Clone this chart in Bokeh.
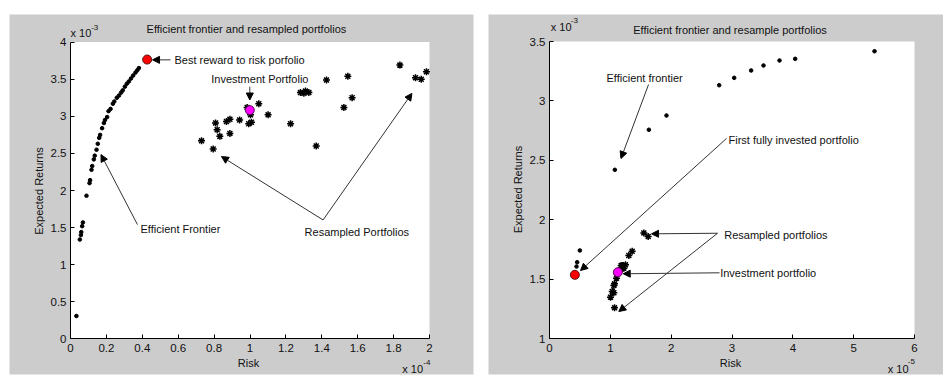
from bokeh.plotting import figure
from bokeh.layouts import row
from bokeh.models import Range1d, FixedTicker, Label, Arrow, NormalHead
from bokeh.embed import file_html
from bokeh.resources import INLINE

# ---------------- Left panel data (risk in 1e-4, expected return in 1e-3) ----------------
left_frontier_risk = [0.033, 0.052, 0.058, 0.060, 0.065, 0.069, 0.089, 0.106, 0.109, 0.117,
                      0.121, 0.130, 0.135, 0.145, 0.152, 0.160, 0.165, 0.176, 0.186, 0.192,
                      0.204, 0.212, 0.223, 0.236, 0.244, 0.258, 0.270, 0.282, 0.291, 0.303,
                      0.314, 0.325, 0.337, 0.349, 0.362, 0.372, 0.381]
left_frontier_ret = [0.31, 1.34, 1.40, 1.44, 1.52, 1.57, 1.93, 2.10, 2.14, 2.28,
                     2.33, 2.42, 2.47, 2.55, 2.63, 2.71, 2.75, 2.84, 2.91, 2.95,
                     2.99, 3.07, 3.10, 3.17, 3.20, 3.25, 3.28, 3.32, 3.35, 3.40,
                     3.44, 3.47, 3.51, 3.55, 3.59, 3.62, 3.65]
left_resampled_risk = [0.984, 1.049, 1.003, 1.101, 0.942, 0.888, 0.869, 0.808, 1.008, 0.993,
                       0.817, 0.832, 0.888, 0.730, 0.795, 1.226, 1.281, 1.309, 1.328, 1.300,
                       1.426, 1.545, 1.569, 1.523, 1.369, 1.835, 1.922, 1.954, 1.983]
left_resampled_ret = [3.12, 3.17, 3.02, 3.02, 2.95, 2.96, 2.93, 2.91, 2.92, 2.90,
                      2.82, 2.73, 2.77, 2.67, 2.56, 2.90, 3.32, 3.34, 3.32, 3.31,
                      3.49, 3.54, 3.25, 3.12, 2.60, 3.69, 3.52, 3.50, 3.60]
left_best_risk, left_best_ret = [0.427], [3.765]
left_invest_risk, left_invest_ret = [0.999], [3.083]

left_x_ticks = [0, 0.2, 0.4, 0.6, 0.8, 1, 1.2, 1.4, 1.6, 1.8, 2]
left_x_labels = ["0", "0.2", "0.4", "0.6", "0.8", "1", "1.2", "1.4", "1.6", "1.8", "2"]
left_y_ticks = [0, 0.5, 1, 1.5, 2, 2.5, 3, 3.5, 4]
left_y_labels = ["0", "0.5", "1", "1.5", "2", "2.5", "3", "3.5", "4"]

# ---------------- Right panel data (risk in 1e-5, expected return in 1e-3) ----------------
right_frontier_risk = [0.444, 0.455, 0.499, 1.074, 1.633, 1.923, 2.789, 3.036, 3.315, 3.518,
                       3.781, 4.039, 5.343]
right_frontier_ret = [1.606, 1.642, 1.741, 2.420, 2.757, 2.877, 3.132, 3.194, 3.256, 3.298,
                      3.340, 3.354, 3.418]
right_resampled_risk = [1.551, 1.622, 1.359, 1.304, 1.249, 1.195, 1.222, 1.167, 1.112, 1.101,
                        1.069, 1.058, 1.031, 1.058, 1.003, 1.069, 1.178]
right_resampled_ret = [1.889, 1.859, 1.735, 1.699, 1.620, 1.614, 1.592, 1.580, 1.545, 1.508,
                       1.460, 1.446, 1.396, 1.385, 1.348, 1.258, 1.614]
right_first_risk, right_first_ret = [0.417], [1.536]
right_invest_risk, right_invest_ret = [1.123], [1.558]

right_x_ticks = [0, 1, 2, 3, 4, 5, 6]
right_x_labels = ["0", "1", "2", "3", "4", "5", "6"]
right_y_ticks = [1, 1.5, 2, 2.5, 3, 3.5]
right_y_labels = ["1", "1.5", "2", "2.5", "3", "3.5"]

# ---------------- Annotation anchors (data space) ----------------
left_notes = {
    "best": dict(text="Best reward to risk porfolio", x=0.579, y=3.761,
                 arrow=[(0.557, 3.761, 0.457, 3.761)]),
    "invest": dict(text="Investment Portfolio", x=1.055, y=3.508, align="center",
                   arrow=[(0.999, 3.40, 0.999, 3.22)]),
    "front": dict(text="Efficient Frontier", x=0.39, y=1.479,
                  arrow=[(0.373, 1.541, 0.170, 2.485)]),
    "resamp": dict(text="Resampled Portfolios", x=1.304, y=1.448,
                   arrow=[(1.407, 1.604, 0.841, 2.458), (1.407, 1.604, 1.902, 3.309)]),
}
right_notes = {
    "front": dict(text="Efficient frontier", x=0.937, y=3.189,
                  arrow=[(1.628, 3.138, 1.175, 2.515)]),
    "first": dict(text="First fully invested portfolio", x=2.943, y=2.667,
                  arrow=[(2.91, 2.684, 0.51, 1.572)]),
    "resamp": dict(text="Resampled portfolios", x=2.872, y=1.875,
                   arrow=[(2.762, 1.886, 1.677, 1.881), (2.762, 1.886, 1.139, 1.227)]),
    "invest": dict(text="Investment portfolio", x=2.806, y=1.553,
                   arrow=[(2.795, 1.553, 1.212, 1.545)]),
}

FONT = "Liberation Sans"
FS = "11px"
TICK_FS = "11.5px"
TXT = "#111111"
GRAY = "#cccccc"
WIN_H = 375


def add_text(p, x, y, text, size=FS, align="left", baseline="middle", angle=0.0):
    p.add_layout(Label(x=x, y=y, text=text, text_font=FONT, text_font_size=size,
                       text_align=align, text_baseline=baseline, angle=angle,
                       text_color=TXT))


def make_panel(fig_w, fig_left, gray_box, plot_box, xr, yr, xt, xl, yt, yl):
    """gray_box / plot_box: (left, right, top, bottom) in window pixels."""
    gl, gr, gt, gb = gray_box
    pl, pr, pt, pb = plot_box
    sx = (pr - pl) / (xr[1] - xr[0])
    sy = (pb - pt) / (yr[1] - yr[0])
    x_rng = Range1d(xr[0] - (pl - gl) / sx, xr[1] + (gr - pr) / sx)
    y_rng = Range1d(yr[0] - (gb - pb) / sy, yr[1] + (pt - gt) / sy)
    p = figure(width=fig_w, height=WIN_H, x_range=x_rng, y_range=y_rng,
               output_backend="svg", toolbar_location=None,
               min_border_left=gl - fig_left, min_border_right=fig_left + fig_w - gr,
               min_border_top=gt, min_border_bottom=WIN_H - gb)
    p.border_fill_color = "white"
    p.background_fill_color = GRAY
    p.outline_line_color = None
    p.xgrid.visible = False
    p.ygrid.visible = False
    # white axes area
    p.quad(left=[xr[0]], right=[xr[1]], bottom=[yr[0]], top=[yr[1]],
           fill_color="white", line_color=None)
    p.xaxis.fixed_location = yr[0]
    p.yaxis.fixed_location = xr[0]
    p.xaxis.bounds = xr
    p.yaxis.bounds = yr
    p.xaxis.ticker = FixedTicker(ticks=xt)
    p.yaxis.ticker = FixedTicker(ticks=yt)
    p.xaxis.major_label_overrides = {t: s for t, s in zip(xt, xl)}
    p.yaxis.major_label_overrides = {t: s for t, s in zip(yt, yl)}
    for ax in (p.xaxis, p.yaxis):
        ax.major_tick_in = 4
        ax.major_tick_out = 0
        ax.minor_tick_line_color = None
        ax.axis_line_color = "black"
        ax.major_tick_line_color = "black"
        ax.major_label_text_font = FONT
        ax.major_label_text_font_size = TICK_FS
        ax.major_label_text_color = TXT
    p.xaxis.major_label_standoff = 5
    p.yaxis.major_label_standoff = 4
    return p


def add_notes(p, notes):
    for n in notes.values():
        for (x0, y0, x1, y1) in n["arrow"]:
            p.add_layout(Arrow(x_start=x0, y_start=y0, x_end=x1, y_end=y1,
                               line_color="#333333", line_width=1,
                               end=NormalHead(size=7, fill_color="black",
                                              line_color="black", line_width=1)))
        add_text(p, n["x"], n["y"], n["text"], align=n.get("align", "left"))


def add_points(p, fr_x, fr_y, rs_x, rs_y, red_x, red_y, mg_x, mg_y):
    p.scatter(fr_x, fr_y, marker="circle", size=3.6, fill_color="black", line_color="black")
    p.scatter(rs_x, rs_y, marker="asterisk", size=7, line_color="black", line_width=1.5)
    p.scatter(red_x, red_y, marker="circle", size=9, fill_color="red", line_color="#551111")
    p.scatter(mg_x, mg_y, marker="circle", size=9, fill_color="#ff00ff", line_color="#551155")


# ---------------- Left panel ----------------
p1 = make_panel(480, 0, (9, 473, 9, 374), (70, 429, 37, 338), (0, 2), (0, 4),
                left_x_ticks, left_x_labels, left_y_ticks, left_y_labels)
add_points(p1, left_frontier_risk, left_frontier_ret, left_resampled_risk, left_resampled_ret,
           left_best_risk, left_best_ret, left_invest_risk, left_invest_ret)
add_notes(p1, left_notes)
add_text(p1, 0.98, 4.173, "Efficient frontier and resampled portfolios", align="center")
add_text(p1, 0.0, 4.12, "x 10", size="11px")
add_text(p1, 0.115, 4.20, "-3", size="8px")
add_text(p1, 0.992, -0.328, "Risk", align="center")
add_text(p1, 1.848, -0.41, "x 10", size="11px")
add_text(p1, 1.965, -0.32, "-4", size="8px")
add_text(p1, -0.178, 1.993, "Expected Returns", align="center", angle=1.5708)

# ---------------- Right panel ----------------
p2 = make_panel(463, 480, (488, 943, 14, 374), (549, 914, 41, 338), (0, 6), (1, 3.5),
                right_x_ticks, right_x_labels, right_y_ticks, right_y_labels)
add_points(p2, right_frontier_risk, right_frontier_ret, right_resampled_risk,
           right_resampled_ret, right_first_risk, right_first_ret,
           right_invest_risk, right_invest_ret)
add_notes(p2, right_notes)
add_text(p2, 2.967, 3.601, "Efficient frontier and resample portfolios", align="center")
add_text(p2, 0.02, 3.625, "x 10", size="11px")
add_text(p2, 0.35, 3.68, "-3", size="8px")
add_text(p2, 2.975, 0.792, "Risk", align="center")
add_text(p2, 5.56, 0.74, "x 10", size="11px")
add_text(p2, 5.89, 0.81, "-5", size="8px")
add_text(p2, -0.515, 2.254, "Expected Returns", align="center", angle=1.5708)

layout = row(p1, p2)

open("out.html", "w").write(file_html(layout, INLINE))
